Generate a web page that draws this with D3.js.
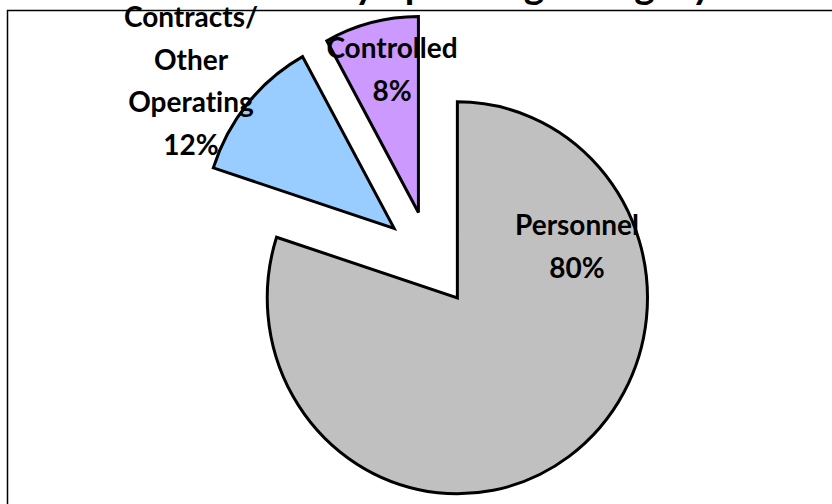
<!DOCTYPE html>
<html>
<head>
    <title>Spending Category Pie</title>
    <script src="https://d3js.org/d3.v7.min.js"></script>
    <style>
        body, html {
            margin: 0;
            padding: 0;
            width: 100%;
            height: 100%;
            overflow: hidden;
            background: #fff;
        }
        svg {
            display: block;
        }
        .title {
            font-family: Lato, "Open Sans", sans-serif;
            font-weight: bold;
            font-size: 39px;
        }
        .label {
            font-family: Lato, "Open Sans", sans-serif;
            font-weight: bold;
            font-size: 28px;
            text-anchor: middle;
            font-variant-ligatures: none;
        }
    </style>
</head>
<body>
    <svg id="chart" width="832" height="504"></svg>

    <script>
        // data
        const categories = ["Personnel", "Contracts/ Other Operating", "Controlled"];
        const shares = [80, 12, 8];
        const colors = ["#c0c0c0", "#99ccff", "#cc99ff"];
        const labelLines = [["Personnel"], ["Contracts/", "Other", "Operating"], ["Controlled"]];
        const titleText = "Total Costs by Spending Category";

        const width = 832, height = 504;
        const svg = d3.select("#chart");

        // frame of the chart area (runs off the right / bottom edge)
        svg.append("rect")
            .attr("x", 7.5)
            .attr("y", 10.5)
            .attr("width", 900)
            .attr("height", 600)
            .attr("fill", "none")
            .attr("stroke", "#000")
            .attr("stroke-width", 1.5);

        // title, mostly cut off by the top edge
        svg.append("text")
            .attr("class", "title")
            .attr("x", 712)
            .attr("y", -1)
            .attr("text-anchor", "end")
            .text(titleText);

        const radius = 196;
        const explode = 48;
        const cx = 430, cy = 259;

        const pie = d3.pie().sort(null).value(d => d);
        const arcs = pie(shares);
        const arc = d3.arc().innerRadius(0).outerRadius(radius);

        const g = svg.append("g")
            .attr("transform", `translate(${cx},${cy}) scale(0.97,1)`);

        g.selectAll("path")
            .data(arcs)
            .enter().append("path")
            .attr("d", arc)
            .attr("fill", (d, i) => colors[i])
            .attr("stroke", "#000")
            .attr("stroke-width", 3)
            .attr("stroke-linejoin", "miter")
            .attr("vector-effect", "non-scaling-stroke")
            .attr("transform", d => {
                const mid = (d.startAngle + d.endAngle) / 2;
                return `translate(${explode * Math.sin(mid)},${-explode * Math.cos(mid)})`;
            });

        // label blocks: centre x and first baseline
        const labelPos = [[577, 235], [191, 27], [392, 58]];
        const lineStep = 42.5;

        arcs.forEach((d, i) => {
            const lines = labelLines[i].concat([d.data + "%"]);
            const t = svg.append("text")
                .attr("class", "label")
                .attr("x", labelPos[i][0])
                .attr("y", labelPos[i][1]);
            lines.forEach((line, j) => {
                t.append("tspan")
                    .attr("x", labelPos[i][0])
                    .attr("y", labelPos[i][1] + j * lineStep)
                    .text(line);
            });
        });
    </script>
</body>
</html>
